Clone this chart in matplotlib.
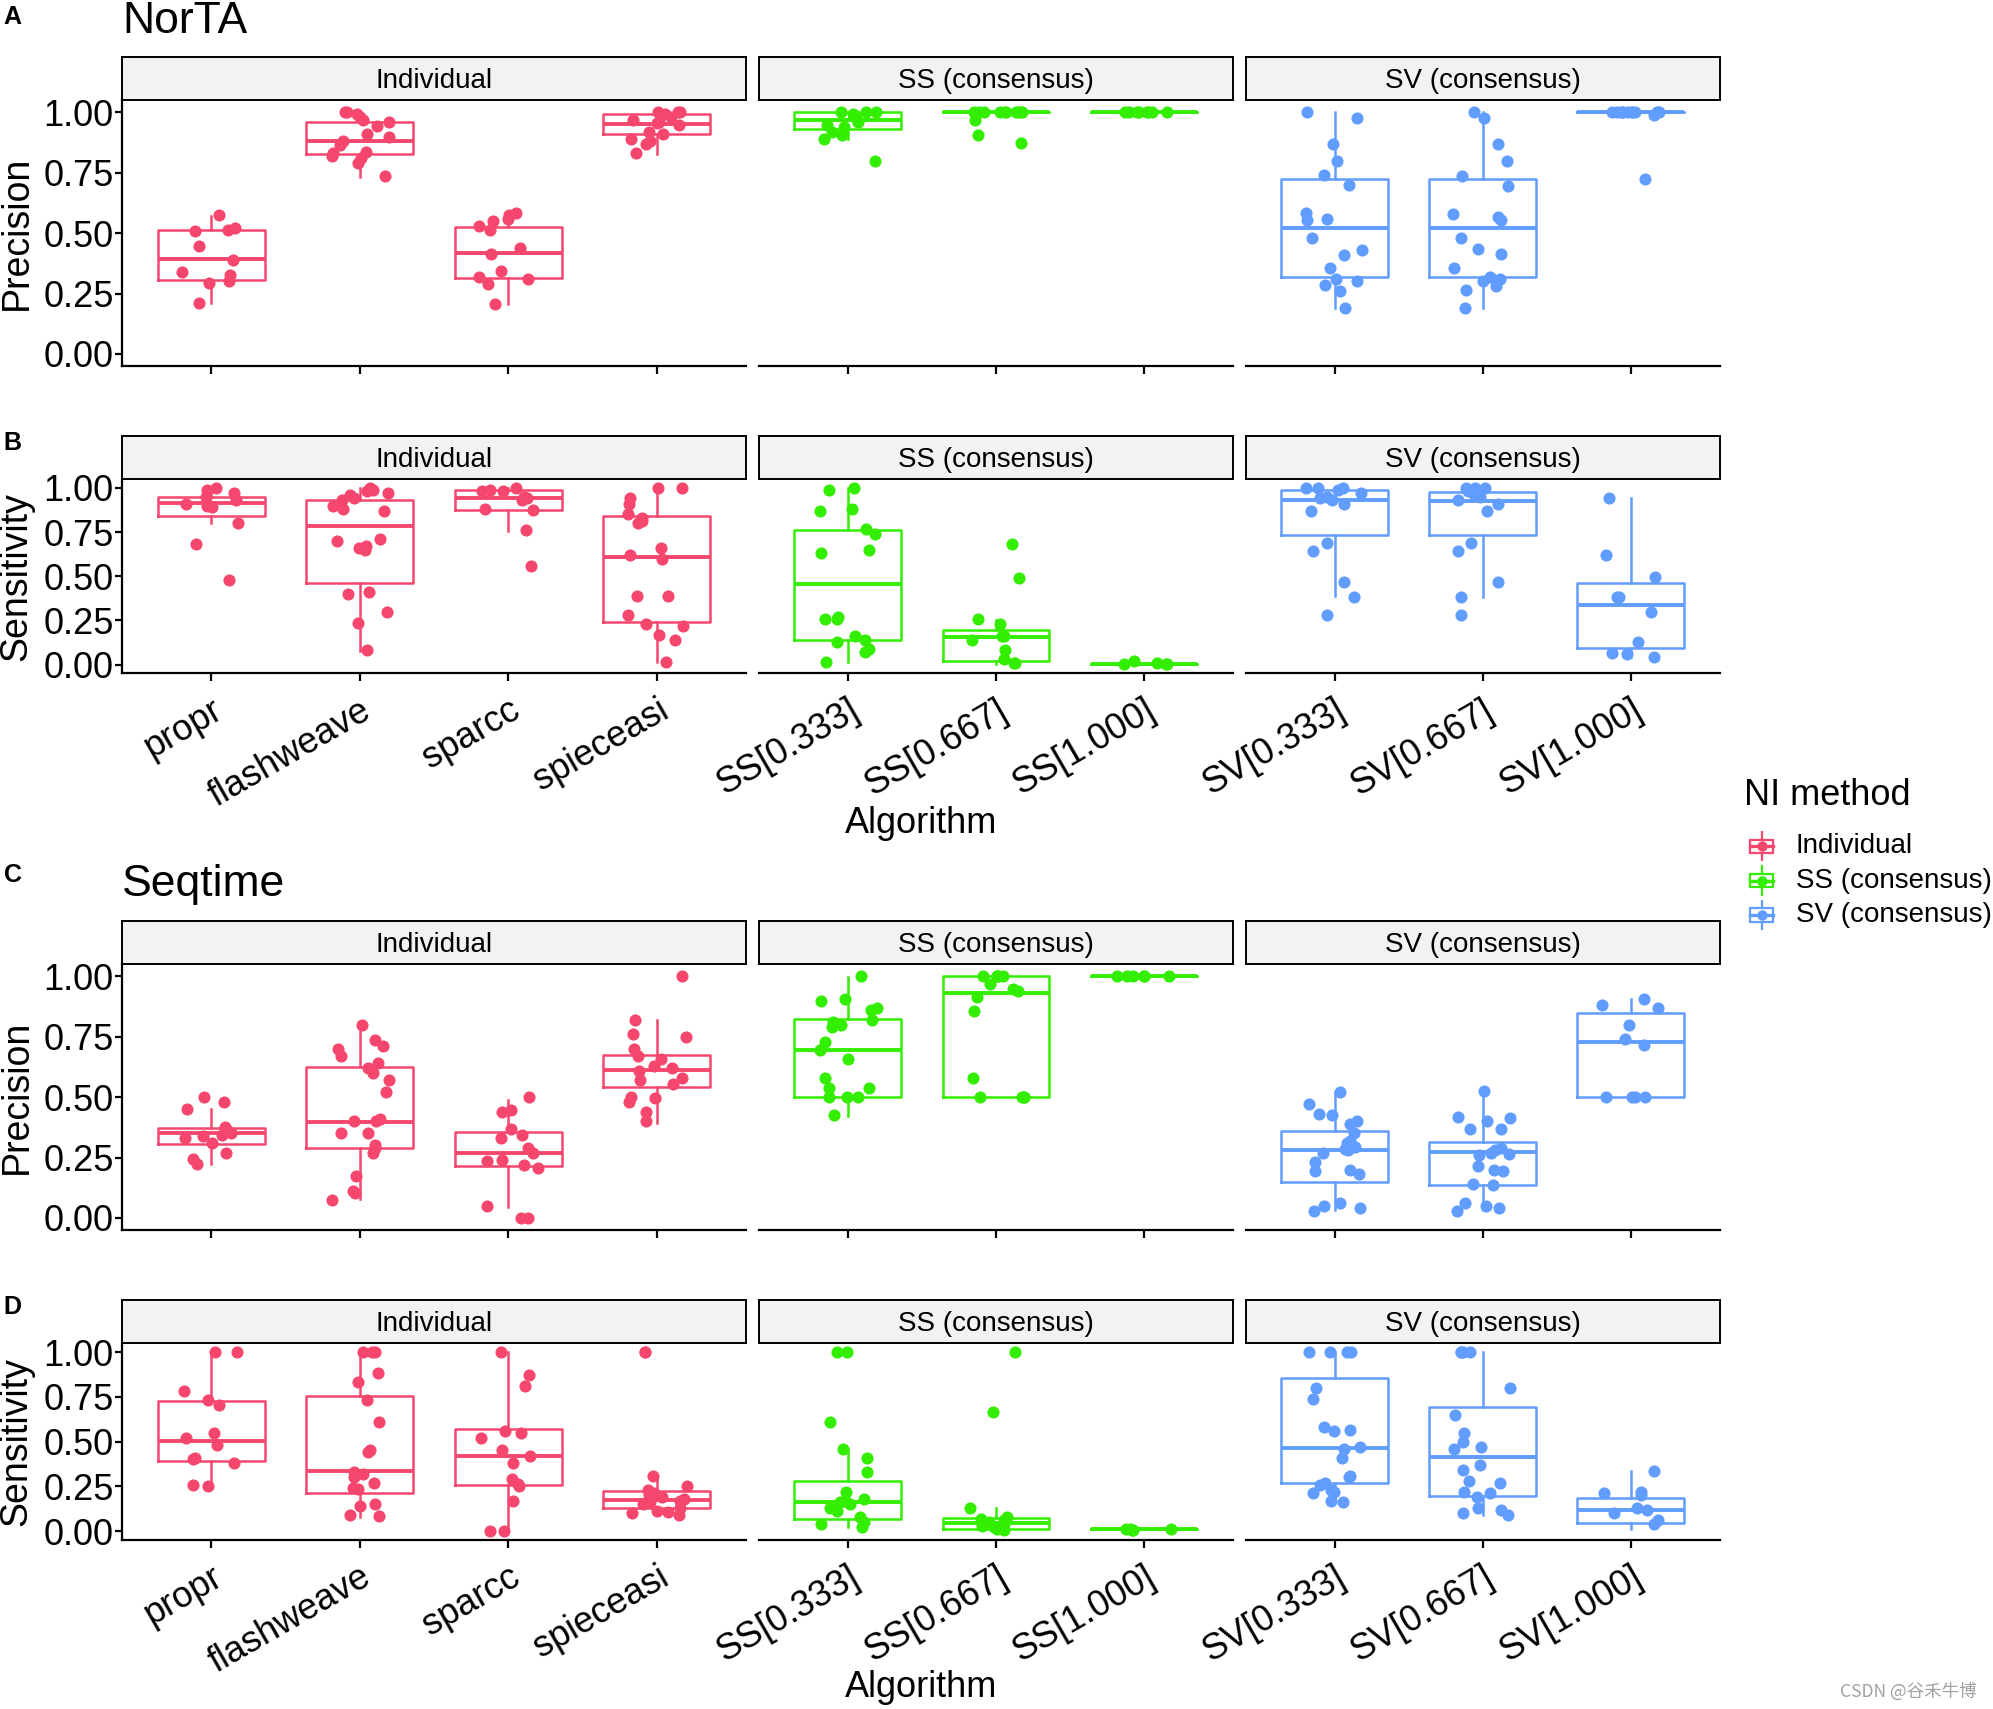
import matplotlib.pyplot as plt
from matplotlib.patches import Rectangle
import numpy as np

plt.rcParams['font.family'] = ['Liberation Sans', 'DejaVu Sans']

algorithms = ['propr', 'flashweave', 'sparcc', 'spieceasi',
              'SS[0.333]', 'SS[0.667]', 'SS[1.000]',
              'SV[0.333]', 'SV[0.667]', 'SV[1.000]']
groups = ['Individual', 'SS (consensus)', 'SV (consensus)']
group_sizes = [4, 3, 3]
group_colors = ['#F5476E', '#33EE00', '#619CFF']
y_ticks = [0.0, 0.25, 0.5, 0.75, 1.0]
y_tick_labels = ['0.00', '0.25', '0.50', '0.75', '1.00']

# A: NorTA precision
a_points = [
    [0.575, 0.523, 0.515, 0.51, 0.448, 0.39, 0.34, 0.325, 0.30, 0.295, 0.21],
    [1.0, 1.0, 0.995, 0.98, 0.97, 0.96, 0.945, 0.91, 0.90, 0.88, 0.865, 0.835, 0.83, 0.82, 0.81, 0.79, 0.735],
    [0.585, 0.575, 0.56, 0.55, 0.53, 0.515, 0.44, 0.415, 0.345, 0.32, 0.31, 0.29, 0.205],
    [1.0, 1.0, 1.0, 0.995, 0.98, 0.97, 0.96, 0.955, 0.95, 0.92, 0.91, 0.89, 0.88, 0.87, 0.83],
    [1.0, 1.0, 1.0, 0.995, 0.99, 0.975, 0.96, 0.95, 0.94, 0.92, 0.905, 0.89, 0.80],
    [1.0, 1.0, 1.0, 1.0, 1.0, 1.0, 1.0, 1.0, 1.0, 1.0, 0.97, 0.905, 0.875],
    [1.0, 1.0, 1.0, 1.0, 1.0, 1.0, 1.0, 1.0],
    [1.0, 0.975, 0.87, 0.80, 0.74, 0.70, 0.582, 0.56, 0.555, 0.48, 0.43, 0.41, 0.355, 0.31, 0.30, 0.285, 0.26, 0.19],
    [1.0, 0.975, 0.87, 0.80, 0.735, 0.695, 0.58, 0.565, 0.555, 0.48, 0.435, 0.415, 0.355, 0.32, 0.31, 0.30, 0.28, 0.265, 0.19],
    [1.0, 1.0, 1.0, 1.0, 1.0, 1.0, 1.0, 1.0, 1.0, 1.0, 1.0, 1.0, 0.99, 0.725],
]
a_q1 = [0.308, 0.826, 0.3125, 0.91, 0.933, 1.0, 1.0, 0.319, 0.319, 1.0]
a_med = [0.393, 0.883, 0.417, 0.954, 0.967, 1.0, 1.0, 0.522, 0.522, 1.0]
a_q3 = [0.513, 0.961, 0.525, 0.994, 1.0, 1.0, 1.0, 0.725, 0.725, 1.0]
a_lo = [0.2125, 0.733, 0.205, 0.829, 0.89, 1.0, 1.0, 0.192, 0.192, 1.0]
a_hi = [0.572, 1.0, 0.583, 1.0, 1.0, 1.0, 1.0, 1.0, 1.0, 1.0]

# B: NorTA sensitivity
b_points = [
    [1.0, 0.99, 0.97, 0.95, 0.93, 0.91, 0.90, 0.89, 0.80, 0.685, 0.48],
    [1.0, 0.99, 0.98, 0.97, 0.96, 0.94, 0.93, 0.90, 0.88, 0.87, 0.71, 0.70, 0.67, 0.66, 0.65, 0.41, 0.40, 0.30, 0.235, 0.08],
    [1.0, 0.99, 0.985, 0.98, 0.95, 0.94, 0.93, 0.88, 0.875, 0.76, 0.56],
    [1.0, 1.0, 0.94, 0.91, 0.85, 0.83, 0.81, 0.80, 0.66, 0.62, 0.60, 0.39, 0.39, 0.28, 0.23, 0.22, 0.165, 0.14, 0.013],
    [1.0, 0.99, 0.88, 0.87, 0.77, 0.74, 0.65, 0.63, 0.27, 0.26, 0.26, 0.16, 0.14, 0.13, 0.09, 0.07, 0.015],
    [0.68, 0.49, 0.26, 0.23, 0.16, 0.16, 0.14, 0.085, 0.03, 0.01, 0.01],
    [0.02, 0.01, 0.005, 0.005, 0.005],
    [1.0, 1.0, 1.0, 0.99, 0.97, 0.95, 0.94, 0.93, 0.91, 0.87, 0.69, 0.64, 0.47, 0.385, 0.28],
    [1.0, 1.0, 1.0, 0.98, 0.97, 0.95, 0.93, 0.91, 0.87, 0.69, 0.64, 0.47, 0.385, 0.28],
    [0.94, 0.62, 0.495, 0.385, 0.38, 0.30, 0.13, 0.065, 0.06, 0.045],
]
b_q1 = [0.843, 0.462, 0.874, 0.24, 0.1415, 0.023, 0.005, 0.732, 0.732, 0.094]
b_med = [0.913, 0.783, 0.943, 0.609, 0.457, 0.155, 0.005, 0.934, 0.926, 0.34]
b_q3 = [0.949, 0.934, 0.989, 0.838, 0.762, 0.196, 0.005, 0.987, 0.979, 0.464]
b_lo = [0.80, 0.079, 0.757, 0.013, 0.013, 0.005, 0.005, 0.389, 0.385, 0.045]
b_hi = [1.0, 1.0, 1.0, 1.0, 1.0, 0.255, 0.005, 1.0, 1.0, 0.94]

# C: Seqtime precision
c_points = [
    [0.50, 0.48, 0.45, 0.375, 0.36, 0.35, 0.345, 0.34, 0.33, 0.31, 0.27, 0.245, 0.225],
    [0.797, 0.735, 0.71, 0.70, 0.67, 0.64, 0.62, 0.60, 0.57, 0.52, 0.41, 0.40, 0.40, 0.35, 0.35, 0.30, 0.29, 0.27, 0.175, 0.11, 0.105, 0.075],
    [0.50, 0.445, 0.44, 0.37, 0.345, 0.33, 0.29, 0.27, 0.24, 0.235, 0.22, 0.205, 0.05, 0.0, 0.0],
    [1.0, 0.82, 0.76, 0.75, 0.70, 0.67, 0.66, 0.63, 0.62, 0.61, 0.58, 0.57, 0.555, 0.50, 0.495, 0.48, 0.44, 0.40],
    [1.0, 0.905, 0.90, 0.87, 0.86, 0.82, 0.81, 0.80, 0.79, 0.73, 0.695, 0.66, 0.58, 0.54, 0.54, 0.50, 0.50, 0.50, 0.425],
    [1.0, 1.0, 1.0, 1.0, 1.0, 0.97, 0.95, 0.94, 0.915, 0.855, 0.58, 0.50, 0.50, 0.50, 0.50],
    [1.0, 1.0, 1.0, 1.0, 1.0, 1.0],
    [0.52, 0.47, 0.43, 0.425, 0.40, 0.39, 0.35, 0.32, 0.31, 0.295, 0.285, 0.28, 0.27, 0.23, 0.20, 0.195, 0.18, 0.06, 0.05, 0.04, 0.03],
    [0.525, 0.42, 0.415, 0.40, 0.37, 0.37, 0.29, 0.28, 0.27, 0.265, 0.26, 0.215, 0.20, 0.195, 0.14, 0.135, 0.06, 0.05, 0.04, 0.03],
    [0.905, 0.88, 0.87, 0.80, 0.74, 0.715, 0.50, 0.50, 0.50, 0.50],
]
c_q1 = [0.305, 0.291, 0.216, 0.542, 0.499, 0.499, 1.0, 0.15, 0.136, 0.499]
c_med = [0.35, 0.397, 0.27, 0.614, 0.695, 0.933, 1.0, 0.283, 0.272, 0.73]
c_q3 = [0.372, 0.624, 0.356, 0.674, 0.822, 1.0, 1.0, 0.361, 0.316, 0.847]
c_lo = [0.225, 0.08, 0.046, 0.393, 0.423, 0.499, 1.0, 0.032, 0.032, 0.499]
c_hi = [0.45, 0.797, 0.49, 0.818, 0.996, 1.0, 1.0, 0.52, 0.523, 0.905]

# D: Seqtime sensitivity
d_points = [
    [1.0, 1.0, 0.78, 0.73, 0.705, 0.55, 0.52, 0.48, 0.41, 0.40, 0.38, 0.26, 0.25],
    [1.0, 1.0, 1.0, 0.885, 0.83, 0.73, 0.61, 0.45, 0.44, 0.33, 0.32, 0.30, 0.27, 0.24, 0.235, 0.15, 0.14, 0.09, 0.085],
    [1.0, 0.87, 0.81, 0.56, 0.55, 0.52, 0.455, 0.42, 0.38, 0.29, 0.265, 0.25, 0.17, 0.0, 0.0],
    [1.0, 1.0, 0.31, 0.25, 0.23, 0.21, 0.20, 0.19, 0.18, 0.17, 0.16, 0.15, 0.13, 0.11, 0.105, 0.10, 0.09],
    [1.0, 1.0, 0.61, 0.46, 0.41, 0.33, 0.22, 0.18, 0.17, 0.16, 0.15, 0.13, 0.11, 0.08, 0.05, 0.04, 0.02],
    [1.0, 0.667, 0.13, 0.08, 0.07, 0.06, 0.05, 0.04, 0.03, 0.02, 0.01, 0.005],
    [0.01, 0.01, 0.005, 0.005, 0.01],
    [1.0, 1.0, 1.0, 1.0, 0.80, 0.74, 0.58, 0.565, 0.56, 0.47, 0.46, 0.41, 0.31, 0.30, 0.27, 0.26, 0.23, 0.22, 0.21, 0.17, 0.16],
    [1.0, 1.0, 1.0, 1.0, 0.80, 0.65, 0.55, 0.50, 0.47, 0.46, 0.37, 0.34, 0.28, 0.27, 0.22, 0.21, 0.19, 0.13, 0.12, 0.10, 0.09],
    [0.334, 0.22, 0.21, 0.20, 0.13, 0.12, 0.10, 0.06, 0.04],
]
d_q1 = [0.394, 0.213, 0.255, 0.126, 0.066, 0.013, 0.009, 0.266, 0.198, 0.047]
d_med = [0.504, 0.334, 0.421, 0.172, 0.164, 0.045, 0.009, 0.466, 0.413, 0.117]
d_q3 = [0.726, 0.757, 0.568, 0.221, 0.277, 0.074, 0.009, 0.857, 0.692, 0.183]
d_lo = [0.255, 0.08, 0.0, 0.098, 0.02, 0.005, 0.009, 0.16, 0.09, 0.013]
d_hi = [1.0, 1.0, 1.0, 0.306, 0.46, 0.126, 0.009, 1.0, 1.0, 0.334]

W, H = 1568.0, 1345.0  # layout measured on the reference in these units
fig = plt.figure(figsize=(1993 / 200, 1709 / 200), dpi=200)

facet_x = [(96, 587), (597, 970), (980, 1353)]
rng = np.random.default_rng(7)  # horizontal jitter only, like geom_jitter


def draw_row(top, bottom, points, q1, med, q3, lo, hi, ylabel, show_labels):
    start = 0
    for g, (x0, x1) in enumerate(facet_x):
        n = group_sizes[g]
        col = group_colors[g]
        ax = fig.add_axes([x0 / W, 1 - bottom / H, (x1 - x0) / W, (bottom - top) / H])
        stats = []
        for k in range(start, start + n):
            stats.append(dict(q1=q1[k], med=med[k], q3=q3[k], whislo=lo[k], whishi=hi[k]))
        ax.bxp(stats, positions=range(n), widths=0.72, showfliers=False, showcaps=False,
               boxprops=dict(color=col, lw=0.9), whiskerprops=dict(color=col, lw=0.9),
               medianprops=dict(color=col, lw=1.4))
        for k in range(n):
            pts = points[start + k]
            xs = k + rng.uniform(-0.2, 0.2, len(pts))
            ax.scatter(xs, pts, s=19, color=col, zorder=3, linewidths=0)
        ax.set_xlim(-0.6, n - 0.4)
        ax.set_ylim(-0.05, 1.05)
        for s in ['top', 'right']:
            ax.spines[s].set_visible(False)
        ax.spines['bottom'].set_linewidth(0.8)
        ax.set_xticks(range(n))
        if show_labels:
            ax.set_xticklabels(algorithms[start:start + n], rotation=30, ha='right', va='top',
                               rotation_mode='anchor', fontsize=13)
        else:
            ax.set_xticklabels([])
        ax.tick_params(axis='x', length=3, width=0.8, pad=4)
        if g == 0:
            ax.spines['left'].set_linewidth(0.8)
            ax.set_yticks(y_ticks)
            ax.set_yticklabels(y_tick_labels, fontsize=13)
            ax.tick_params(axis='y', length=2.5, width=0.8, pad=0.5)
        else:
            ax.spines['left'].set_visible(False)
            ax.set_yticks([])
        # facet strip
        sax = fig.add_axes([x0 / W, 1 - top / H, (x1 - x0) / W, 34 / H])
        sax.set_facecolor('#F2F2F2')
        sax.set_xticks([])
        sax.set_yticks([])
        for s in sax.spines.values():
            s.set_linewidth(0.7)
        sax.text(0.5, 0.45, groups[g], ha='center', va='center', fontsize=10, transform=sax.transAxes)
        start += n
    fig.text(13 / W, 1 - (top + bottom) / 2 / H, ylabel, rotation=90, ha='center', va='center', fontsize=13.5)


draw_row(79, 288, a_points, a_q1, a_med, a_q3, a_lo, a_hi, 'Precision', False)
draw_row(377, 530, b_points, b_q1, b_med, b_q3, b_lo, b_hi, 'Sensitivity', True)
draw_row(759, 968, c_points, c_q1, c_med, c_q3, c_lo, c_hi, 'Precision', False)
draw_row(1057, 1212, d_points, d_q1, d_med, d_q3, d_lo, d_hi, 'Sensitivity', True)

# panel letters and titles
for letter, y in [('A', 13), ('B', 349), ('C', 689), ('D', 1029)]:
    fig.text(3 / W, 1 - y / H, letter, fontsize=9, fontweight='bold', va='center')
fig.text(96 / W, 1 - 17 / H, 'NorTA', fontsize=16, va='center')
fig.text(96 / W, 1 - 696 / H, 'Seqtime', fontsize=16, va='center')
fig.text(725 / W, 1 - 648 / H, 'Algorithm', fontsize=13, ha='center', va='center')
fig.text(725 / W, 1 - 1328 / H, 'Algorithm', fontsize=13, ha='center', va='center')

# legend
fig.text(1372 / W, 1 - 626 / H, 'NI method', fontsize=13, va='center')
for i, (name, col) in enumerate(zip(groups, group_colors)):
    yc = 666 + 27 * i
    kax = fig.add_axes([1375 / W, 1 - (yc + 12) / H, 22 / W, 24 / H])
    kax.set_xlim(0, 1)
    kax.set_ylim(0, 1)
    kax.axis('off')
    kax.add_patch(Rectangle((0.1, 0.28), 0.8, 0.44, fill=False, edgecolor=col, lw=0.8))
    kax.plot([0.5, 0.5], [0.0, 0.28], color=col, lw=0.8)
    kax.plot([0.5, 0.5], [0.72, 1.0], color=col, lw=0.8)
    kax.plot([0.1, 0.9], [0.5, 0.5], color=col, lw=1.2)
    kax.scatter([0.5], [0.5], s=14, color=col, linewidths=0, zorder=3)
    fig.text(1413 / W, 1 - yc / H, name, fontsize=10, va='center')

fig.text(1448 / W, 1 - 1331 / H, 'CSDN @谷禾牛博', fontsize=6.3, color='#A0A0A0', va='center',
         family=['Noto Sans CJK SC', 'DejaVu Sans'])

fig.savefig('out.png', dpi=200)
